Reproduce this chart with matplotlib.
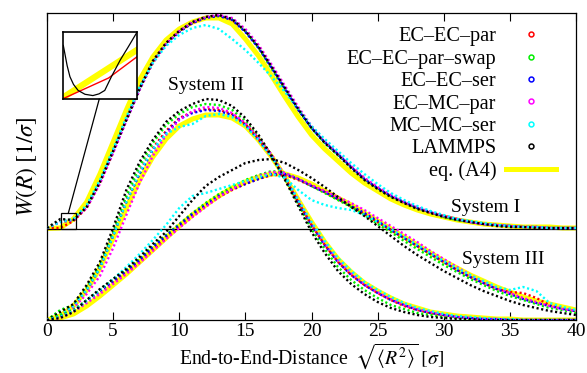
import matplotlib
matplotlib.use("Agg")
import matplotlib.pyplot as plt
from matplotlib.lines import Line2D
from matplotlib.patches import Rectangle, ConnectionPatch

plt.rcParams['font.family'] = ['Liberation Serif', 'DejaVu Serif']
plt.rcParams['mathtext.fontset'] = 'stix'

# ---------------- data (heights in arbitrary units of W(R)) ----------------
R = list(range(0, 41))

offset_I = 91  # vertical shift of System I

s1_red     = [1,1,8,21,46,77,110,141,167,186,198,206,212,214,209,198,182,161,140,120,102,87,74,62,51,41,33,26,21,16,13,10,7,5,4,3,2,2,1,1,1]
s1_green   = [1,8,9,22,47,78,110,140,166,185,198,207,212,213,210,198,181,160,139,119,101,86,74,62,50,41,33,27,21,17,12,9,7,5,4,3,2,2,1,1,1]
s1_blue    = [1,7,9,22,47,77,109,140,167,185,197,206,211,213,209,197,181,161,140,119,101,87,75,62,50,41,33,27,21,17,13,10,7,5,4,3,2,2,1,1,1]
s1_magenta = [1,7,9,21,45,76,108,139,166,185,198,207,212,214,211,200,184,164,143,122,103,88,76,63,51,42,34,27,22,17,13,10,7,5,4,3,2,2,1,1,1]
s1_cyan    = [1,7,10,24,49,80,112,142,166,183,194,201,204,200,190,179,166,152,137,120,103,90,78,66,55,45,36,29,23,18,14,10,8,6,4,3,2,2,1,1,1]
s1_black   = [1,10,9,22,47,78,109,140,168,186,198,207,212,214,210,198,182,162,141,120,101,86,74,61,49,40,32,26,20,16,12,9,7,5,3,2,2,1,1,1,1]
s1_yellow  = [0.5,1,10,27,55,87,119,149,172,189,200,207,211,211,205,190,173,153,132,112,94,80,68,56,46,38,30,24,19,15,12,9,7,5,4,3,2,2,2,1,1]

s2_red     = [0,4,14,30,53,86,120,149,172,189,202,208,211,210,206,196,181,163,142,118,95,75,58,45,35,27,20,14,10,7,5,3,2,1,1,0,0,0,0,0,0]
s2_green   = [0,10,15,33,55,88,124,154,177,195,206,213,216,215,210,199,183,164,141,116,91,71,53,40,30,22,15,11,7,5,3,2,1,1,0,0,0,0,0,0,0]
s2_blue    = [0,4,14,30,52,84,118,146,170,187,201,207,210,209,205,195,180,163,142,118,95,75,58,45,35,27,20,15,10,7,5,3,2,1,1,0,0,0,0,0,0]
s2_magenta = [0,3,12,26,44,72,105,137,164,185,200,209,213,212,207,197,182,165,144,120,97,77,60,47,36,28,21,15,11,8,5,3,2,1,1,0,0,0,0,0,0]
s2_cyan    = [0,5,14,30,52,84,118,148,171,186,193,196,204,206,203,194,180,163,143,120,98,79,62,49,38,30,23,17,12,9,6,4,3,2,1,1,0,0,0,0,0]
s2_black   = [0,8,16,35,58,92,130,158,180,198,209,216,221,220,214,202,185,164,140,114,88,67,49,36,26,18,12,8,5,3,2,1,1,0,0,0,0,0,0,0,0]
s2_yellow  = [0,4,14,30,52,82,112,140,163,181,194,201,205,205,202,194,180,163,143,120,98,78,61,48,37,29,22,16,12,8,6,4,3,2,1,1,0,0,0,0,0]

s3_red     = [0,3,9,19,29,38,48,58,70,82,93,104,114,123,130,136,141,145,145,140,134,128,121,114,106,98,90,82,74,66,58,50,43,37,31,28,27,22,15,12,9]
s3_green   = [0,5,10,20,30,40,50,61,74,85,96,107,117,126,133,140,145,149,147,141,134,127,120,113,105,96,88,79,71,63,55,48,41,35,29,24,20,16,12,10,7]
s3_blue    = [0,3,9,19,29,39,49,60,73,84,95,106,115,124,131,136,141,146,146,141,134,128,121,114,107,99,90,82,74,66,58,50,43,37,31,26,21,17,14,11,9]
s3_magenta = [0,2,8,17,26,36,46,57,69,81,92,103,113,123,131,138,144,148,147,141,135,129,123,117,110,102,94,86,78,69,61,53,45,38,32,27,22,18,14,11,9]
s3_cyan    = [0,3,9,19,30,41,53,66,80,95,112,124,127,131,135,139,143,146,142,130,120,115,112,110,105,98,91,83,75,67,59,52,45,39,33,30,33,29,17,13,10]
s3_black   = [0,2,8,20,31,41,51,63,76,88,104,120,134,143,150,157,160,161,157,150,142,133,123,113,104,94,84,74,65,57,49,42,35,29,24,19,15,12,9,7,5]
s3_yellow  = [0,2,6,14,24,35,46,58,70,82,94,105,115,124,132,138,143,146,146,142,136,129,122,115,107,99,91,83,75,67,59,52,45,39,33,28,23,19,16,13,10]

# inset (zoom of System I around R = 1..2.2)
inset_R_black = [1.04, 1.063, 1.10, 1.144, 1.20, 1.272, 1.38, 1.504, 1.60, 1.690, 1.794, 1.933, 2.06, 2.2]
inset_W_black = [12.5, 10.7, 7.8, 5.2, 3.4, 2.0, 1.1, 0.8, 1.2, 2.0, 5.2, 9.1, 12.2, 15.7]
inset_R_yellow = [1.04, 2.2]
inset_W_yellow = [0.4, 11.5]
inset_R_red = [1.04, 1.75, 2.2]
inset_W_red = [0.1, 4.9, 9.9]

labels = ['EC–EC–par', 'EC–EC–par–swap', 'EC–EC–ser', 'EC–MC–par', 'MC–MC–ser', 'LAMMPS']
colors = ['#ff0000', '#00ee00', '#0000ff', '#ff00ff', '#00ffff', '#000000']
yellow = '#ffff00'

systems = [
    (offset_I, [s1_red, s1_green, s1_blue, s1_magenta, s1_cyan, s1_black], s1_yellow),
    (0, [s2_red, s2_green, s2_blue, s2_magenta, s2_cyan, s2_black], s2_yellow),
    (0, [s3_red, s3_green, s3_blue, s3_magenta, s3_cyan, s3_black], s3_yellow),
]

# ---------------- figure ----------------
fig = plt.figure(figsize=(5.87, 3.73), dpi=100)
ax = fig.add_axes([47/587, 1-320/373, 529/587, 307/373])

for off, series, yl in systems:
    ax.plot(R, [v + off for v in yl], color=yellow, lw=3.6, zorder=2, solid_capstyle='butt')
    for s, c in zip(series, colors):
        ax.plot(R, [v + off for v in s], color=c, lw=1.7, linestyle=(0, (0.9, 1.1)), zorder=3)

ax.axhline(offset_I, color='black', lw=0.9, zorder=2.5)

ax.set_xlim(0, 40)
ax.set_ylim(0, 307)
ax.set_xticks(range(0, 41, 5))
ax.set_yticks([])
ax.tick_params(axis='x', direction='in', top=True, length=6, width=0.8, labelsize=14, pad=2.5)
for sp in ax.spines.values():
    sp.set_linewidth(0.9)

ax.set_xlabel(r'End-to-End-Distance $\;\sqrt{\langle R^2\rangle}\;[\sigma]$', fontsize=14.2, labelpad=1)
ax.set_ylabel(r'$W(R)\;[1/\sigma]$', fontsize=17, labelpad=6)

ax.text(12.0, 234, 'System II', fontsize=14, ha='center', va='center')
ax.text(33.2, 112, 'System I', fontsize=14, ha='center', va='center')
ax.text(34.5, 60, 'System III', fontsize=14, ha='center', va='center')

# legend
handles = [Line2D([], [], linestyle='none', marker='o', markersize=3.5, markerfacecolor='none',
                  markeredgecolor=c, markeredgewidth=1.1) for c in colors]
handles.append(Line2D([], [], color=yellow, lw=3.6))
leg = fig.legend(handles, labels + ['eq. (A4)'], loc='upper right',
                 bbox_to_anchor=(556/587, 1-27/373), frameon=False, markerfirst=False,
                 fontsize=14.6, handlelength=2.45, handletextpad=0.5, labelspacing=0.16,
                 borderpad=0, borderaxespad=0)
for t in leg.get_texts():
    t.set_ha('right')

# zoom rectangle and inset
ax.add_patch(Rectangle((1.04, offset_I), 1.16, 15.7, fill=False, lw=0.9, ec='black', zorder=4))
axin = fig.add_axes([63.3/587, 1-99/373, 74/587, 67.3/373])
axin.plot(inset_R_yellow, [v + offset_I for v in inset_W_yellow], color=yellow, lw=4.5)
axin.plot(inset_R_red, [v + offset_I for v in inset_W_red], color='#ff0000', lw=1.0)
axin.plot(inset_R_black, [v + offset_I for v in inset_W_black], color='black', lw=0.9)
axin.set_xlim(1.04, 2.2)
axin.set_ylim(offset_I, offset_I + 15.7)
axin.set_xticks([])
axin.set_yticks([])
for sp in axin.spines.values():
    sp.set_linewidth(1.2)

con = ConnectionPatch(xyA=(1.61, offset_I + 15.7), coordsA=ax.transData,
                      xyB=(0.486, 0.0), coordsB=axin.transAxes, color='black', lw=0.9)
fig.add_artist(con)

fig.savefig('out.png', dpi=100)
